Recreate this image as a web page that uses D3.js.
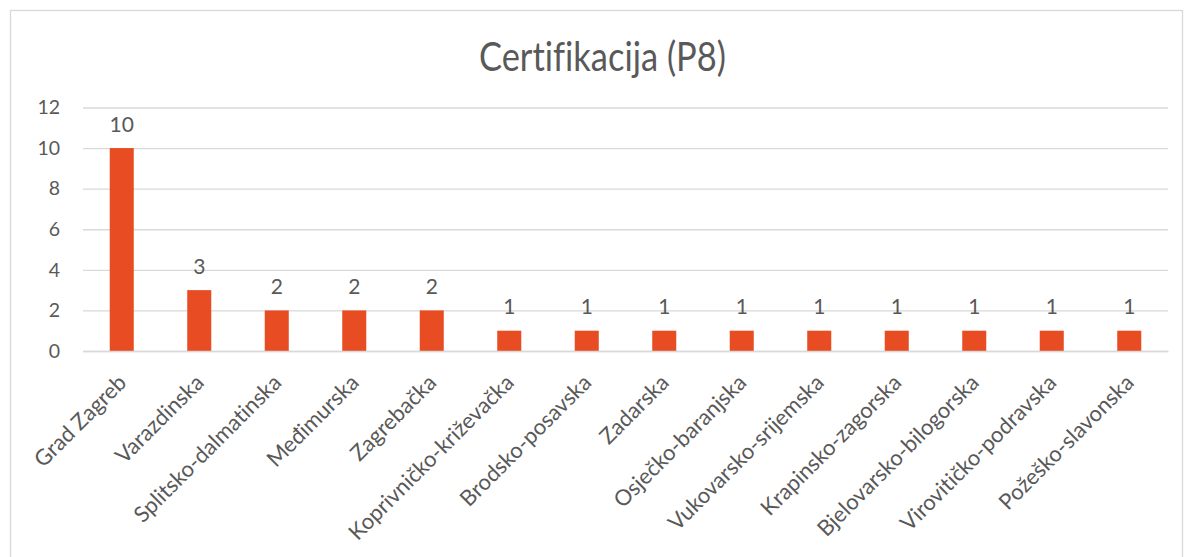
<!DOCTYPE html>
<html>
<head>
<meta charset="utf-8">
<script src="https://cdn.jsdelivr.net/npm/d3@7"></script>
<style>
  html, body { margin: 0; padding: 0; background: #fff; }
  svg { display: block; }
  text { font-family: Lato, "Open Sans", sans-serif; fill: #595959; font-variant-ligatures: none; }
</style>
</head>
<body>
<svg id="chart" width="1184" height="557"></svg>
<script>
// County names and certification counts
const categories = [
  "Grad Zagreb", "Varazdinska", "Splitsko-dalmatinska", "Međimurska", "Zagrebačka",
  "Koprivničko-križevačka", "Brodsko-posavska", "Zadarska", "Osječko-baranjska",
  "Vukovarsko-srijemska", "Krapinsko-zagorska", "Bjelovarsko-bilogorska",
  "Virovitičko-podravska", "Požeško-slavonska"
];
const values = [10, 3, 2, 2, 2, 1, 1, 1, 1, 1, 1, 1, 1, 1];
const yTicks = [0, 2, 4, 6, 8, 10, 12];
const title = "Certifikacija (P8)";

const margin = { left: 83, right: 1168, top: 107.5, bottom: 351 };
const font = "Lato, 'Open Sans', sans-serif";

const svg = d3.select("#chart");

// chart frame
svg.append("rect")
  .attr("x", 10.5).attr("y", 10.5)
  .attr("width", 1172).attr("height", 560)
  .attr("fill", "#fff").attr("stroke", "#d9d9d9").attr("stroke-width", 1.3);

const x = d3.scaleBand().domain(categories)
  .range([margin.left, margin.right]).paddingInner(0.69).paddingOuter(0.345);
const y = d3.scaleLinear().domain([0, 12]).range([margin.bottom, margin.top]);

// value axis with gridlines
const yAxis = d3.axisLeft(y).tickValues(yTicks).tickSize(-(margin.right - margin.left)).tickPadding(23);
const gy = svg.append("g").attr("transform", `translate(${margin.left},0)`).call(yAxis);
gy.select(".domain").remove();
gy.selectAll(".tick line").attr("stroke", "#d9d9d9").attr("stroke-width", 1.3);
gy.selectAll(".tick text").attr("font-size", 19.5).attr("fill", "#595959").attr("font-family", font);

// bars
svg.append("g").selectAll("rect").data(values).join("rect")
  .attr("x", (d, i) => x(categories[i]))
  .attr("y", d => y(d))
  .attr("width", x.bandwidth())
  .attr("height", d => y(0) - y(d))
  .attr("fill", "#e84c22");

// value labels
svg.append("g").selectAll("text").data(values).join("text")
  .attr("x", (d, i) => x(categories[i]) + x.bandwidth() / 2)
  .attr("y", d => y(d) - 16.5)
  .attr("text-anchor", "middle")
  .attr("font-size", 21)
  .text(d => d);

// category axis with slanted labels
const xAxis = d3.axisBottom(x).tickSize(0).tickPadding(0);
const gx = svg.append("g").attr("transform", `translate(0,${margin.bottom})`).call(xAxis);
gx.select(".domain").attr("stroke", "#d9d9d9").attr("stroke-width", 1.3);
gx.selectAll(".tick text")
  .attr("font-size", 22).attr("fill", "#595959").attr("font-family", font)
  .attr("text-anchor", "end")
  .attr("dy", null)
  .attr("transform", "translate(6,33) rotate(-45)");

// title
svg.append("text")
  .attr("x", 479)
  .attr("y", 71)
  .attr("font-size", 40)
  .attr("textLength", 247)
  .attr("lengthAdjust", "spacingAndGlyphs")
  .text(title);
</script>
</body>
</html>
